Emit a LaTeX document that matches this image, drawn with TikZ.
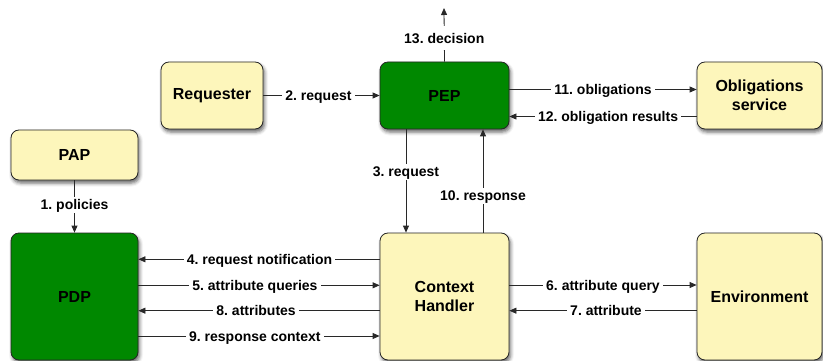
\documentclass[tikz,border=0pt]{standalone}
\usepackage{fontspec}
\setmainfont{Liberation Sans}
\usetikzlibrary{arrows.meta,shadows.blur}
\frenchspacing

\definecolor{boxgreen}{RGB}{0,136,0}
\definecolor{boxyellow}{RGB}{253,246,187}
\definecolor{linegray}{RGB}{40,40,40}

\tikzset{
  box/.style={draw=black!85, line width=0.8pt, rounded corners=8pt,
    align=center, font=\fontsize{16}{19.5}\selectfont\bfseries,
    blur shadow={shadow xshift=1.5pt, shadow yshift=-3pt,
      shadow blur radius=3.5pt, shadow opacity=60}},
  ybox/.style={box, fill=boxyellow},
  gbox/.style={box, fill=boxgreen},
  flow/.style={draw=linegray, line width=0.8pt,
    -{Triangle[length=7pt,width=6pt]}},
  lbl/.style={fill=white, inner xsep=3pt, inner ysep=3pt,
    text height=10pt, text depth=0pt,
    font=\fontsize{14}{16}\selectfont\bfseries}
}

\begin{document}
\begin{tikzpicture}[x=1pt,y=-1pt]
  \useasboundingbox (0,0) rectangle (823,361);

  % components
  \node[ybox, minimum width=102pt, minimum height=67pt] (req) at (212,95.5) {Requester};
  \node[gbox, minimum width=129pt, minimum height=67pt] (pep) at (444.5,95.5) {PEP};
  \node[ybox, minimum width=125pt, minimum height=67pt] (obl) at (759.5,95.5) {Obligations\\service};
  \node[ybox, minimum width=127pt, minimum height=50pt] (pap) at (74.5,155) {PAP};
  \node[gbox, minimum width=127pt, minimum height=127pt] (pdp) at (74.5,296.5) {PDP};
  \node[ybox, minimum width=129pt, minimum height=127pt] (ctx) at (444.5,296.5) {Context\\Handler};
  \node[ybox, minimum width=125pt, minimum height=127pt] (env) at (759.5,296.5) {Environment};

  \coordinate (out) at (444,8);

  % messages
  \draw[flow] (pap.south) -- node[lbl, pos=0.47] {1. policies} (pdp.north);
  \draw[flow] (req.east) -- node[lbl, pos=0.474] {2. request} (req.east -| pep.west);
  \draw[flow] ([xshift=-38.5pt]pep.south) -- node[lbl, pos=0.41] {3. request} ([xshift=-38.5pt]ctx.north);
  \draw[flow] ([yshift=37.2pt]ctx.west) -- node[lbl, pos=0.498] {4. request notification} ([yshift=37.2pt]pdp.east);
  \draw[flow] ([yshift=11.2pt]pdp.east) -- node[lbl, pos=0.483] {5. attribute queries} ([yshift=11.2pt]ctx.west);
  \draw[flow] ([yshift=11.5pt]ctx.east) -- node[lbl, pos=0.5] {6. attribute query} ([yshift=11.5pt]env.west);
  \draw[flow] ([yshift=-14.2pt]env.west) -- node[lbl, pos=0.484] {7. attribute} ([yshift=-14.2pt]ctx.east);
  \draw[flow] ([yshift=-14.2pt]ctx.west) -- node[lbl, pos=0.512] {8. attributes} ([yshift=-14.2pt]pdp.east);
  \draw[flow] ([yshift=-39.5pt]pdp.east) -- node[lbl, pos=0.483] {9. response context} ([yshift=-39.5pt]ctx.west);
  \draw[flow] ([xshift=38.5pt]ctx.north) -- node[lbl, pos=0.356] {10. response} ([xshift=38.5pt]pep.south);
  \draw[flow] ([yshift=6pt]pep.east) -- node[lbl, pos=0.5] {11. obligations} ([yshift=6pt]obl.west);
  \draw[flow] ([yshift=-21pt]obl.west) -- node[lbl, pos=0.473] {12. obligation results} ([yshift=-21pt]pep.east);
  \draw[flow] (pep.north) -- node[lbl, pos=0.44, inner ysep=7pt] {13. decision} (out);
\end{tikzpicture}
\end{document}
